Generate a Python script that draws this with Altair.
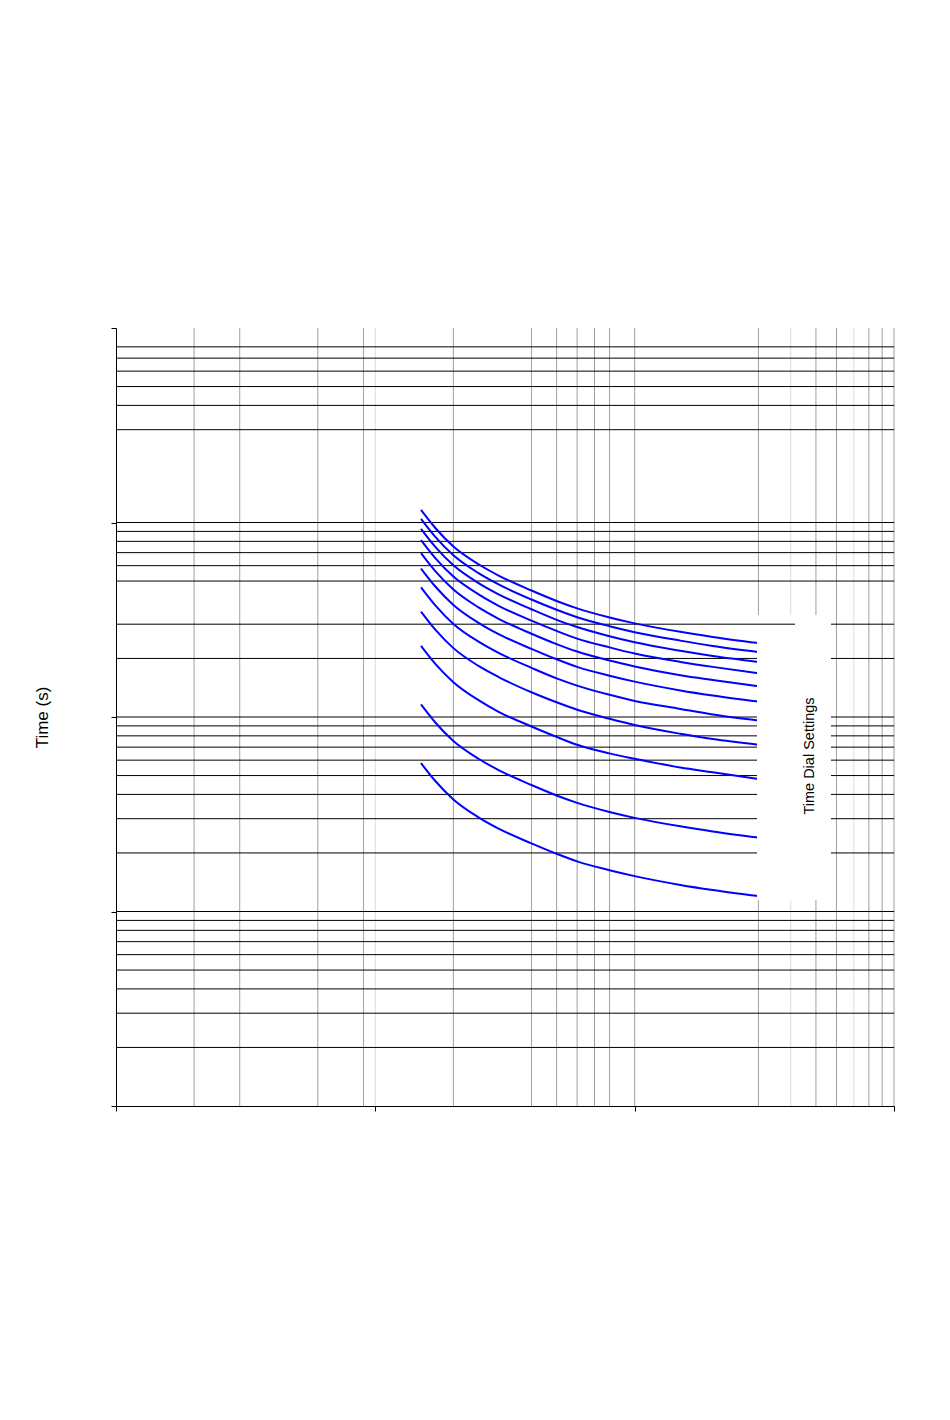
import altair as alt
import pandas as pd

# Multiples of pickup (x) sampled along each time-dial curve
multiples = [1.5, 1.7, 2, 2.5, 3, 4, 5, 6, 8, 10, 15, 20, 30]

# Operating time (s) read for each time-dial setting
td_10 = [11.6, 9.40, 7.53, 6.10, 5.32, 4.47, 3.95, 3.62, 3.25, 3.03, 2.74, 2.58, 2.40]
td_9 = [10.44, 8.46, 6.78, 5.49, 4.79, 4.02, 3.56, 3.26, 2.93, 2.73, 2.47, 2.32, 2.16]
td_8 = [9.28, 7.52, 6.02, 4.88, 4.26, 3.58, 3.16, 2.90, 2.60, 2.42, 2.19, 2.06, 1.92]
td_7 = [8.12, 6.58, 5.27, 4.27, 3.72, 3.13, 2.77, 2.53, 2.28, 2.12, 1.92, 1.81, 1.68]
td_6 = [6.96, 5.64, 4.52, 3.66, 3.19, 2.68, 2.37, 2.17, 1.95, 1.82, 1.64, 1.55, 1.44]
td_5 = [5.80, 4.70, 3.77, 3.05, 2.66, 2.24, 1.98, 1.81, 1.63, 1.52, 1.37, 1.29, 1.20]
td_4 = [4.64, 3.76, 3.01, 2.44, 2.13, 1.79, 1.58, 1.45, 1.30, 1.21, 1.10, 1.03, 0.96]
td_3 = [3.48, 2.82, 2.26, 1.83, 1.60, 1.34, 1.19, 1.09, 0.98, 0.91, 0.82, 0.77, 0.72]
td_2 = [2.32, 1.88, 1.51, 1.22, 1.06, 0.894, 0.79, 0.72, 0.65, 0.61, 0.55, 0.52, 0.48]
td_1 = [1.16, 0.94, 0.753, 0.61, 0.532, 0.447, 0.395, 0.362, 0.325, 0.303, 0.274, 0.258, 0.240]
td_05 = [0.58, 0.47, 0.377, 0.305, 0.266, 0.224, 0.198, 0.181, 0.163, 0.152, 0.137, 0.129, 0.120]

dial_settings = ["10", "9", "8", "7", "6", "5", "4", "3", "2", "1", "0.5"]
dial_series = [td_10, td_9, td_8, td_7, td_6, td_5, td_4, td_3, td_2, td_1, td_05]

# Grid lines as drawn in the reference
vgrid_mid = [0.2, 0.3, 0.6, 0.9, 2, 4, 5, 6, 7, 8, 10, 30, 50, 60, 80, 90, 100]
vgrid_light = [1, 40, 70]
hgrid = [80, 70, 60, 50, 40, 30,
         10, 9, 8, 7, 6, 5, 3, 2,
         1, 0.9, 0.8, 0.7, 0.6, 0.5, 0.4, 0.3, 0.2,
         0.1, 0.09, 0.08, 0.07, 0.06, 0.05, 0.04, 0.03, 0.02]

x_ticks = [0.1, 1, 10, 100]
y_ticks = [0.01, 0.1, 1, 10, 100]

W, H = 778, 778

rows = []
for name, series in zip(dial_settings, dial_series):
    for m, t in zip(multiples, series):
        rows.append({"td": name, "M": m, "t": t})
curves_df = pd.DataFrame(rows)

vg_df = pd.DataFrame({"x": vgrid_mid + vgrid_light,
                      "shade": ["mid"] * len(vgrid_mid) + ["light"] * len(vgrid_light)})
hg_df = pd.DataFrame({"y": hgrid})

xs = alt.Scale(type="log", domain=[0.1, 100])
ys = alt.Scale(type="log", domain=[0.01, 100])

xa = alt.Axis(values=x_ticks, labels=False, tickSize=5, tickColor="black", domainColor="black",
              grid=False, title=None, zindex=1)
ya = alt.Axis(values=y_ticks, labels=False, tickSize=5, tickColor="black", domainColor="black",
              grid=False, title="Time (s)", titleFont="Liberation Sans", titleFontSize=17,
              titleFontWeight="normal", titleColor="black", titlePadding=59, zindex=1)

vlines = alt.Chart(vg_df).mark_rule(strokeWidth=1).encode(
    x=alt.X("x:Q", scale=xs, axis=xa),
    y=alt.value(0), y2=alt.value(H),
    color=alt.Color("shade:N", scale=alt.Scale(domain=["mid", "light"], range=["#a0a0a0", "#dcdcdc"]), legend=None),
)

hlines = alt.Chart(hg_df).mark_rule(strokeWidth=1, color="black").encode(
    y=alt.Y("y:Q", scale=ys, axis=ya),
    x=alt.value(0), x2=alt.value(W),
)

curves = alt.Chart(curves_df).mark_line(color="#0000ff", strokeWidth=2, interpolate="monotone").encode(
    x=alt.X("M:Q", scale=xs, axis=xa),
    y=alt.Y("t:Q", scale=ys, axis=ya),
    detail="td:N",
)

box = alt.Chart(pd.DataFrame({"a": [0]})).mark_rect(color="white").encode(
    x=alt.value(641), x2=alt.value(715), y=alt.value(287), y2=alt.value(572),
)

seg = alt.Chart(pd.DataFrame({"y": [3]})).mark_rule(strokeWidth=1, color="black").encode(
    y=alt.Y("y:Q", scale=ys, axis=ya),
    x=alt.value(641), x2=alt.value(679),
)

label = alt.Chart(pd.DataFrame({"a": [0]})).mark_text(
    angle=270, font="Liberation Sans", fontSize=14.5, color="black", align="center", baseline="middle"
).encode(x=alt.value(694), y=alt.value(428), text=alt.value("Time Dial Settings"))

chart = alt.layer(vlines, hlines, curves, box, seg, label).properties(
    width=W, height=H,
    padding={"left": 108, "top": 320, "right": 48, "bottom": 300},
    autosize=alt.AutoSizeParams(type="none"),
    background="white",
).configure_view(stroke=None)

chart.save("out.html", embed_options={"renderer": "svg", "actions": False})
